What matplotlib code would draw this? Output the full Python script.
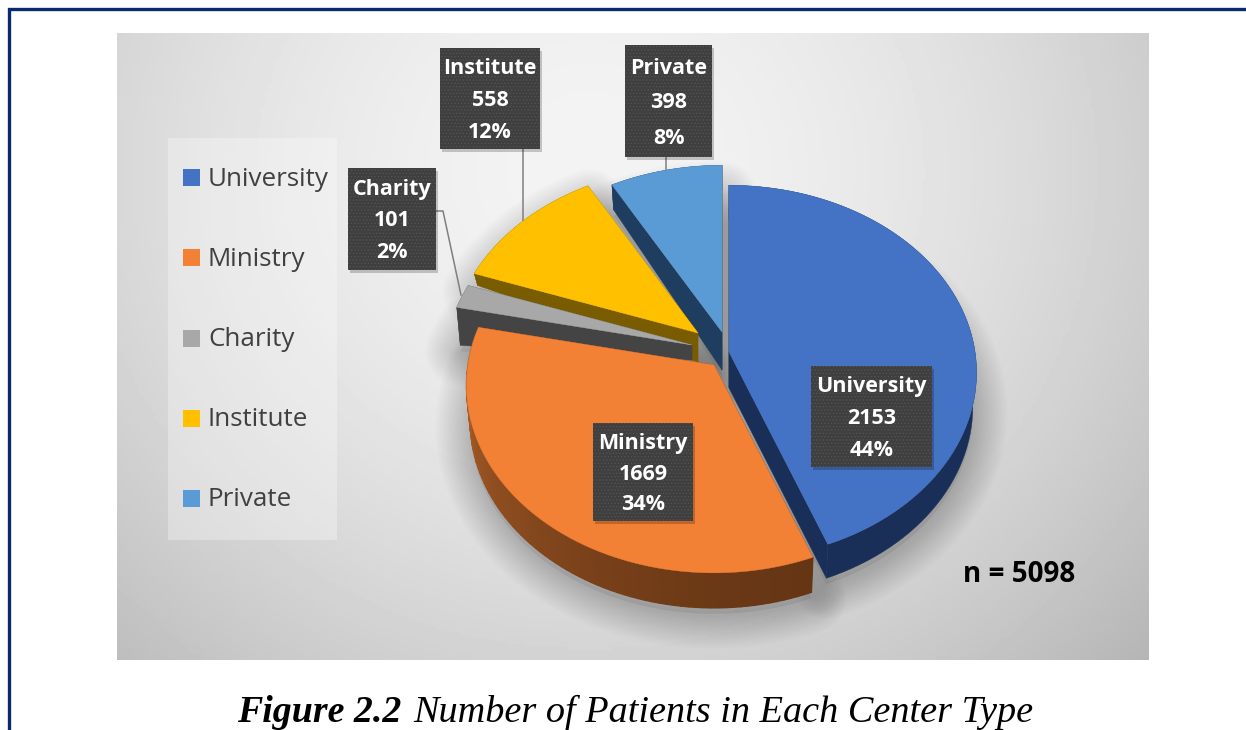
import numpy as np
import matplotlib
matplotlib.use("Agg")
import matplotlib.pyplot as plt
from matplotlib.patches import Polygon, Rectangle

plt.rcParams['hatch.linewidth'] = 0.5

categories = ['University', 'Ministry', 'Charity', 'Institute', 'Private']
patients = [2153, 1669, 101, 558, 398]
percents = ['44%', '34%', '2%', '12%', '8%']
total_label = 'n = 5098'

colors = ['#4472c4', '#f28035', '#a8a8a8', '#ffc000', '#5b9bd5']
side_colors = ['#1a2f57', '#6b3613', '#444444', '#7a5c00', '#1f3d5e']

# where each exploded slice has its tip, in pixels
apex_x = [729, 714, 692, 698, 722]
apex_y = [352, 365, 345, 333, 332]
# extrusion depth at tip and at rim
depth_tip = [36, 36, 15, 29, 38]
depth_rim = [34, 35, 38, 12, 25]

# label boxes: left, top, right, bottom
boxes = [(811, 366, 932, 467), (593, 423, 693, 521), (348, 168, 436, 270),
         (440, 48, 540, 149), (625, 45, 712, 157)]
legend_y = [178, 258, 339, 419, 499]

RX = 246
RY = 185
PERSP = 0.11
LOW_SHRINK = 0.985
W, H = 1246, 730


def project(u, v, cx, cy):
    s = 1 + PERSP*v
    return cx + RX*u/s, cy - RY*v/s


def slice_outline(start, end, i, depth=False):
    # fan from tip along the rim, start and end in degrees
    th = np.radians(np.linspace(start, end, 80))
    u = np.r_[0, np.cos(th)]
    v = np.r_[0, np.sin(th)]
    x, y = project(u, v, apex_x[i], apex_y[i])
    if depth:
        x = apex_x[i] + (x-apex_x[i])*LOW_SHRINK
        y = y + np.r_[depth_tip[i], np.full(80, depth_rim[i])]
    return np.column_stack([x, y])


fig = plt.figure(figsize=(W/100, H/100), dpi=100)
ax = fig.add_axes([0, 0, 1, 1])

# page frame, open on the right
ax.plot([9, 9, W], [H, 9, 9], color='#0a2a6e', lw=2.4, solid_joinstyle='miter')

# chart background
gx, gy = np.meshgrid(np.linspace(117, 1149, 300), np.linspace(33, 660, 200))
d2 = ((gx-590)/560)**2 + ((gy-170)/530)**2
ax.imshow(0.955 - 0.145*d2**0.85, cmap='gray', vmin=0, vmax=1, extent=(117, 1149, 660, 33),
          aspect='auto', zorder=1)
ax.set_xlim(0, W)
ax.set_ylim(H, 0)
ax.set_axis_off()

# legend panel
ax.add_patch(Rectangle((168, 138), 169, 402, facecolor='white', alpha=0.3, lw=0, zorder=2))
for i, cat in enumerate(categories):
    ax.add_patch(Rectangle((183, legend_y[i]-9), 17, 17, facecolor=colors[i], lw=0, zorder=3))
    ax.text(208, legend_y[i]+1, cat, color='#404040', fontsize=18.7, family='Open Sans',
            va='center', ha='left', zorder=3)

# slice angles, clockwise from 12 o'clock
fracs = np.array(patients)/sum(patients)
ends = 90 - 360*np.cumsum(fracs)
starts = np.r_[90, ends[:-1]]

# soft shadow under the pie
for i in range(5):
    low = slice_outline(starts[i], ends[i], i, depth=True)
    low[:, 1] += 6
    for lw in np.linspace(50, 4, 16):
        ax.add_patch(Polygon(low, closed=True, fill=False, edgecolor='black', lw=lw, alpha=0.012,
                             joinstyle='round', zorder=4))
    ax.add_patch(Polygon(low, closed=True, facecolor='black', alpha=0.07, lw=0, zorder=4))

# back to front
for z, i in enumerate([4, 3, 2, 1, 0]):
    top = slice_outline(starts[i], ends[i], i)
    low = slice_outline(starts[i], ends[i], i, depth=True)
    base = 5 + z*0.1
    n = len(top)
    # cut faces
    for a, b in [(0, 1), (0, n-1)]:
        ax.add_patch(Polygon([top[a], top[b], low[b], low[a]], closed=True,
                             facecolor=side_colors[i], edgecolor=side_colors[i], lw=0.3, zorder=base))
    # rim, the orange one gets lighter towards the left
    if i == 1:
        for k in range(1, n-1):
            t = (k-1)/(n-2)
            c = np.array([0.40, 0.21, 0.08])*(1-t**1.5) + np.array([0.72, 0.40, 0.17])*t**1.5
            ax.add_patch(Polygon([top[k], top[k+1], low[k+1], low[k]], closed=True,
                                 facecolor=c, edgecolor=c, lw=1.0, zorder=base))
    else:
        band = np.vstack([top[1:], low[1:][::-1]])
        ax.add_patch(Polygon(band, closed=True, facecolor=side_colors[i], edgecolor=side_colors[i],
                             lw=0.3, zorder=base))
    ax.add_patch(Polygon(top, closed=True, facecolor=colors[i], edgecolor=colors[i], lw=0.3,
                         zorder=base+0.05))

# leader lines
ax.plot([523, 523], [149, 222], color='#7f7f7f', lw=1.1, zorder=4.5)
ax.plot([666, 666], [157, 170], color='#7f7f7f', lw=1.1, zorder=4.5)
ax.plot([436, 443, 461], [211, 211, 295], color='#7f7f7f', lw=1.1, zorder=4.5)

# data labels
for i, cat in enumerate(categories):
    x0, y0, x1, y1 = boxes[i]
    ax.add_patch(Rectangle((x0+2, y0+3), x1-x0, y1-y0, facecolor='black', alpha=0.2, lw=0, zorder=7))
    ax.add_patch(Rectangle((x0, y0), x1-x0, y1-y0, facecolor='#3f3f3f', edgecolor='#555555',
                           hatch='.....', lw=0, zorder=7.1))
    xc = (x0+x1)/2
    h = (y1-y0)/3.2
    yc = (y0+y1)/2 + 2
    for j, line in enumerate([cat, str(patients[i]), percents[i]]):
        ax.text(xc, yc+(j-1)*h, line, color='white', fontsize=15.5, family='Open Sans', weight='bold',
                ha='center', va='center', zorder=8)

ax.text(1019, 574, total_label, color='black', fontsize=20, family='Open Sans', weight='bold',
        ha='center', va='center', zorder=8)

# caption
ax.text(237, 712, 'Figure 2.2', color='black', fontsize=27.3, family='Liberation Serif',
        style='italic', weight='bold', ha='left', va='center', zorder=8)
ax.text(413, 712, 'Number of Patients in Each Center Type', color='black', fontsize=27.5,
        family='Liberation Serif', style='italic', ha='left', va='center', zorder=8)

fig.savefig('out.png', dpi=100)
